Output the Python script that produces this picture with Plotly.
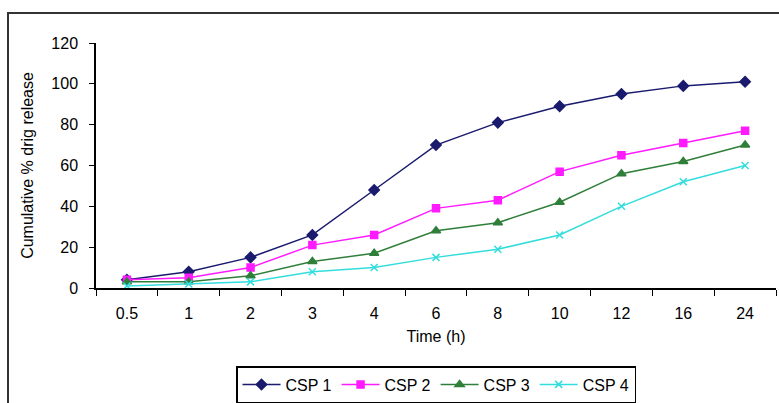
import plotly.graph_objects as go

time_labels = ["0.5", "1", "2", "3", "4", "6", "8", "10", "12", "16", "24"]
csp1 = [4, 8, 15, 26, 48, 70, 81, 89, 95, 99, 101]
csp2 = [4, 5, 10, 21, 26, 39, 43, 57, 65, 71, 77]
csp3 = [3, 3, 6, 13, 17, 28, 32, 42, 56, 62, 70]
csp4 = [1, 2, 3, 8, 10, 15, 19, 26, 40, 52, 60]
y_ticks = [0, 20, 40, 60, 80, 100, 120]

series = [
    ("CSP 1", csp1, "#1a1a6e", "diamond", 8),
    ("CSP 2", csp2, "#ff1aff", "square", 7),
    ("CSP 3", csp3, "#2f7f3a", "triangle-up", 8),
    ("CSP 4", csp4, "#33dddd", "x-thin-open", 7),
]

FONT = "Liberation Sans, Arial, sans-serif"

fig = go.Figure()
for name, vals, col, sym, sz in series:
    fig.add_trace(go.Scatter(
        x=time_labels, y=vals, name=name, mode="lines+markers",
        line=dict(color=col, width=1.5),
        marker=dict(symbol=sym, size=sz, color=col, line=dict(color=col, width=1.5)),
    ))

fig.update_layout(
    width=779, height=403,
    margin=dict(l=96, r=3, t=43, b=115),
    paper_bgcolor="white", plot_bgcolor="white",
    font=dict(family=FONT, size=16, color="black"),
    showlegend=True,
    legend=dict(
        orientation="h", x=0.5, y=-0.005, xanchor="center", yanchor="bottom",
        yref="container",
        bordercolor="black", borderwidth=1.5, bgcolor="white",
        font=dict(family=FONT, size=16), itemwidth=38, tracegroupgap=0,
    ),
    xaxis=dict(
        type="category", showgrid=False, showline=True, linecolor="black", linewidth=1.5,
        ticks="outside", ticklen=6, tickcolor="black", tickson="boundaries",
        tickfont=dict(size=16), range=[-0.5, 10.5], ticklabelstandoff=10,
        title=dict(text="Time (h)", font=dict(size=16), standoff=10),
    ),
    yaxis=dict(
        range=[0, 120], tickvals=y_ticks, showgrid=False, showline=True,
        linecolor="black", linewidth=1.5, ticks="outside", ticklen=5,
        tickcolor="black", tickfont=dict(size=16), zeroline=False, ticklabelstandoff=8,
        title=dict(text="Cumulative % drig release", font=dict(size=16), standoff=14),
    ),
    shapes=[dict(
        type="rect", xref="paper", yref="paper",
        x0=(8 - 96) / 680, x1=(790 - 96) / 680,
        y0=(288 - 420) / 245, y1=(288 - 13) / 245,
        line=dict(color="#333333", width=2), fillcolor="rgba(0,0,0,0)", layer="below",
    )],
)

fig.write_html("out.html")
